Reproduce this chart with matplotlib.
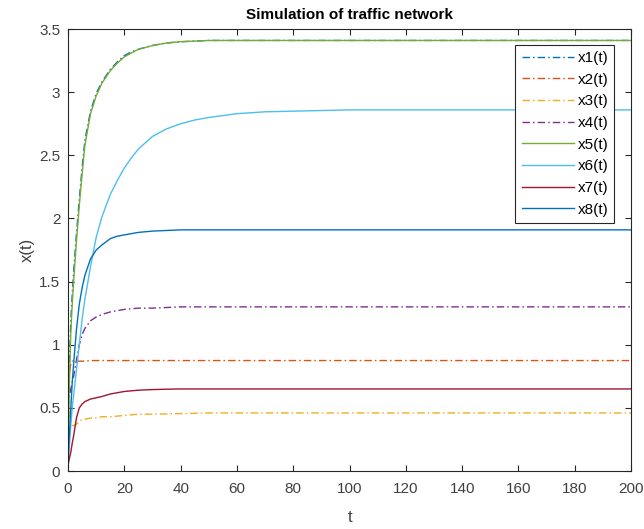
import numpy as np
import matplotlib
matplotlib.use('Agg')
import matplotlib.pyplot as plt

# sample times and values
t = [0, 0.5, 1, 1.5, 2, 3, 4, 5, 6, 8, 10, 12, 15, 17.5, 20, 22.5, 25, 30, 35, 40, 45, 50, 60, 70, 80, 100, 150, 200]

x1 = [0.5, 0.85, 1.2, 1.4, 1.58, 1.88, 2.15, 2.4, 2.62, 2.85, 2.99, 3.08, 3.18, 3.24, 3.29, 3.32, 3.34, 3.37, 3.39, 3.40, 3.405, 3.41, 3.41, 3.41, 3.41, 3.41, 3.41, 3.41]
x2 = [0.55, 0.78, 0.85, 0.87, 0.87, 0.87, 0.87, 0.87, 0.87, 0.875, 0.875, 0.875, 0.875, 0.875, 0.875, 0.875, 0.875, 0.875, 0.875, 0.875, 0.875, 0.875, 0.875, 0.875, 0.875, 0.875, 0.875, 0.875]
x3 = [0.6, 0.45, 0.38, 0.36, 0.36, 0.37, 0.39, 0.41, 0.41, 0.42, 0.42, 0.43, 0.43, 0.435, 0.44, 0.445, 0.45, 0.45, 0.452, 0.455, 0.457, 0.46, 0.46, 0.46, 0.46, 0.46, 0.46, 0.46]
x4 = [0.5, 0.6, 0.65, 0.7, 0.75, 0.88, 1.0, 1.08, 1.13, 1.19, 1.22, 1.24, 1.26, 1.27, 1.28, 1.285, 1.29, 1.29, 1.295, 1.30, 1.30, 1.30, 1.30, 1.30, 1.30, 1.30, 1.30, 1.30]
x5 = [0.2, 0.7, 1.1, 1.32, 1.5, 1.82, 2.1, 2.35, 2.58, 2.83, 2.97, 3.07, 3.17, 3.23, 3.28, 3.31, 3.34, 3.37, 3.39, 3.40, 3.405, 3.41, 3.41, 3.41, 3.41, 3.41, 3.41, 3.41]
x6 = [0.0, 0.2, 0.37, 0.5, 0.6, 0.8, 1.0, 1.2, 1.36, 1.62, 1.85, 2.01, 2.19, 2.30, 2.40, 2.48, 2.55, 2.65, 2.71, 2.75, 2.78, 2.80, 2.83, 2.845, 2.85, 2.86, 2.86, 2.86]
x7 = [0.05, 0.1, 0.15, 0.22, 0.28, 0.42, 0.5, 0.53, 0.55, 0.57, 0.58, 0.59, 0.61, 0.62, 0.63, 0.635, 0.64, 0.645, 0.648, 0.65, 0.65, 0.65, 0.65, 0.65, 0.65, 0.65, 0.65, 0.65]
x8 = [0.1, 0.3, 0.5, 0.7, 0.85, 1.12, 1.32, 1.45, 1.55, 1.68, 1.75, 1.79, 1.84, 1.86, 1.87, 1.88, 1.89, 1.90, 1.905, 1.91, 1.91, 1.91, 1.91, 1.91, 1.91, 1.91, 1.91, 1.91]

series = [x1, x2, x3, x4, x5, x6, x7, x8]
labels = ['x1(t)', 'x2(t)', 'x3(t)', 'x4(t)', 'x5(t)', 'x6(t)', 'x7(t)', 'x8(t)']
colors = ['#0072BD', '#D95319', '#EDB120', '#7E2F8E', '#77AC30', '#4DBEEE', '#A2142F', '#0072BD']
dashdot = (0, (5.4, 2.2, 1.1, 2.2))
styles = [dashdot, dashdot, dashdot, dashdot, '-', '-', '-', '-']

plt.rcParams['font.family'] = ['Liberation Sans', 'DejaVu Sans']

def main():
    fig = plt.figure(figsize=(6.44, 5.29), dpi=100)
    ax = fig.add_axes([0.1056, 0.1096, 0.8744, 0.8354])
    for y, lab, c, ls in zip(series, labels, colors, styles):
        ax.plot(t, y, color=c, linestyle=ls, linewidth=1.0, label=lab)

    ax.set_xlim(0, 200)
    ax.set_ylim(0, 3.5)
    ax.set_xticks(np.arange(0, 201, 20))
    ax.set_yticks(np.arange(0, 3.51, 0.5))
    ax.set_yticklabels(['0', '0.5', '1', '1.5', '2', '2.5', '3', '3.5'])
    ax.tick_params(direction='in', top=True, right=True, length=4,
                   color='#262626', labelcolor='#404040', labelsize=11)
    ax.tick_params(axis='x', pad=8)
    ax.tick_params(axis='y', pad=5.5)
    for s in ax.spines.values():
        s.set_color('#262626')
        s.set_linewidth(0.8)
    ax.set_xlabel('t', fontsize=12, color='#404040', labelpad=10)
    ax.set_ylabel('x(t)', fontsize=12, color='#404040', labelpad=3)
    ax.set_title('Simulation of traffic network', fontsize=11, fontweight='bold', pad=7)

    leg = ax.legend(loc='upper right', bbox_to_anchor=(0.970, 0.964), borderaxespad=0,
                    fontsize=11, handlelength=3.4, fancybox=False, framealpha=1,
                    edgecolor='#262626', labelspacing=0.5, borderpad=0.4,
                    handletextpad=0.25)
    leg.get_frame().set_linewidth(0.8)

    fig.savefig('out.png', dpi=100)

if __name__ == "__main__":
    main()
